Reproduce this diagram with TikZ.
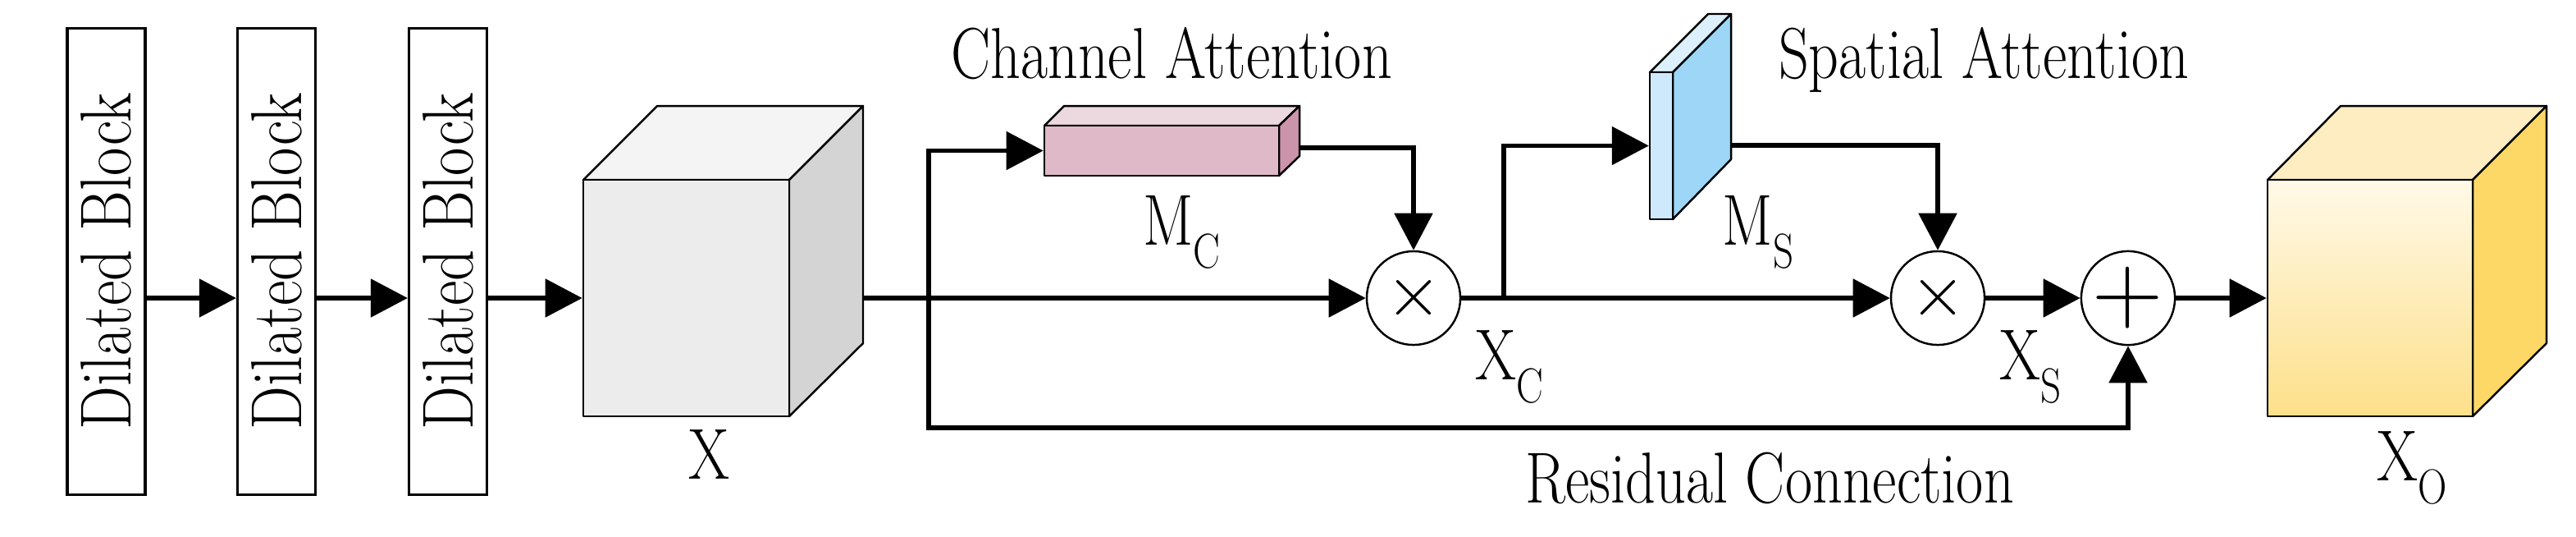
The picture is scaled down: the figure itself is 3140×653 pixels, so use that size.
\documentclass[tikz,border=0pt]{standalone}
\usetikzlibrary{arrows.meta,calc}
\definecolor{xfront}{HTML}{ECECEC}
\definecolor{xside}{HTML}{D4D4D4}
\definecolor{xtop}{HTML}{F4F4F4}
\definecolor{cfront}{HTML}{DFB9C7}
\definecolor{ctop}{HTML}{ECD9E0}
\definecolor{cside}{HTML}{CC94AB}
\definecolor{sfront}{HTML}{CDE9FB}
\definecolor{sside}{HTML}{9DD6F7}
\definecolor{stop}{HTML}{DCF0FC}
\definecolor{oside}{HTML}{FDD866}
\definecolor{otop}{HTML}{FDEDC0}
\definecolor{otopg}{HTML}{FFF9E8}
\definecolor{obot}{HTML}{FDE08A}
\newcommand{\sbs}[1]{\raisebox{-0.32em}{\fontsize{17}{17}\selectfont #1}}
\newcommand{\nt}[1]{\scalebox{0.82}[1]{#1}}
\begin{document}
\begin{tikzpicture}[x=0.01cm,y=-0.01cm,
  every node/.style={font=\fontsize{25}{30}\selectfont},
  blk/.style={draw,line width=0.9pt,minimum width=0.95cm,minimum height=5.67cm,inner sep=0pt},
  op/.style={draw,circle,line width=0.7pt,minimum size=1.14cm,inner sep=0pt,fill=white},
  face/.style={draw=black,line width=0.7pt,line join=round},
  conn/.style={line width=1.5pt,-{Triangle[length=0.45cm,width=0.46cm]}},
  ln/.style={line width=1.5pt},
  lbl/.style={inner sep=0pt}]
\useasboundingbox (0,0) rectangle (3140,653);
% dilated blocks
\node[blk] (b1) at (129.5,318.5) {\rotatebox{90}{\scalebox{0.85}[1]{Dilated Block}}};
\node[blk] (b2) at (337,318.5) {\rotatebox{90}{\scalebox{0.85}[1]{Dilated Block}}};
\node[blk] (b3) at (546,318.5) {\rotatebox{90}{\scalebox{0.85}[1]{Dilated Block}}};
% cube X
\filldraw[fill=xtop,face] (711,219) -- (801,129) -- (1052,129) -- (962,219) -- cycle;
\filldraw[fill=xside,face] (962,219) -- (1052,129) -- (1052,418) -- (962,507) -- cycle;
\node[face,fill=xfront,minimum width=2.51cm,minimum height=2.88cm,inner sep=0pt] (X) at (836.5,363) {};
\coordinate (Xout) at (1052,363);
\node[lbl] (xl) at (864,553) {\nt{X}};
% channel attention bar
\filldraw[fill=ctop,face] (1273,153) -- (1297,129) -- (1584,129) -- (1559,153) -- cycle;
\filldraw[fill=cside,face] (1559,153) -- (1584,129) -- (1584,190) -- (1559,214) -- cycle;
\node[face,fill=cfront,minimum width=2.86cm,minimum height=0.61cm,inner sep=0pt] (mc) at (1416,183.5) {};
\coordinate (mcout) at (1584,180);
\node[lbl] at (1428,33) [anchor=north] {\nt{Channel Attention}};
\node[lbl] at (1440,283) {\nt{M\sbs{C}}};
% spatial plate
\filldraw[fill=stop,face] (2011,88) -- (2082,17) -- (2110,17) -- (2039,88) -- cycle;
\filldraw[fill=sside,face] (2039,88) -- (2110,17) -- (2110,194) -- (2039,267) -- cycle;
\node[face,fill=sfront,minimum width=0.28cm,minimum height=1.79cm,inner sep=0pt] (ms) at (2025,177.5) {};
\coordinate (msout) at (2110,177);
\node[lbl] at (2418,33) [anchor=north] {\nt{Spatial Attention}};
\node[lbl] at (2143,283) {\nt{M\sbs{S}}};
% operators
\node[op] (m1) at (1723,363) {\fontsize{28}{28}\selectfont$\times$};
\node[op] (m2) at (2362,363) {\fontsize{28}{28}\selectfont$\times$};
\node[op] (p) at (2594,363) {\fontsize{34}{34}\selectfont +};
\node[lbl] at (1840,447) {\nt{X\sbs{C}}};
\node[lbl] at (2475,447) {\nt{X\sbs{S}}};
% output cube
\filldraw[fill=otop,face] (2764,219) -- (2853,129) -- (3104,129) -- (3014,219) -- cycle;
\filldraw[fill=oside,face] (3014,219) -- (3104,129) -- (3104,418) -- (3014,507) -- cycle;
\node[face,top color=otopg,bottom color=obot,minimum width=2.5cm,minimum height=2.88cm,inner sep=0pt] (O) at (2889,363) {};
\node[lbl] at (2940,570) {\nt{X\sbs{O}}};
\node[lbl] at (2157,582) {\nt{Residual Connection}};
% connectors
\coordinate (br) at (1132,363);
\coordinate (sp) at (1833,363);
\draw[conn] (b1.east |- X.west) -- (b2.west |- X.west);
\draw[conn] (b2.east |- X.west) -- (b3.west |- X.west);
\draw[conn] (b3.east |- X.west) -- (X.west);
\draw[conn] (Xout) -- (m1);
\draw[conn] (br) |- (mc.west);
\draw[conn] (mcout) -| (m1.north);
\draw[ln] (m1) -- (sp);
\draw[conn] (sp) -- (m2);
\draw[conn] (sp) |- (ms.west);
\draw[conn] (msout) -| (m2.north);
\draw[conn] (m2) -- (p);
\draw[conn] (p) -- (O);
\draw[conn] (br) -- (1132,521) -| (p.south);
\end{tikzpicture}
\end{document}
